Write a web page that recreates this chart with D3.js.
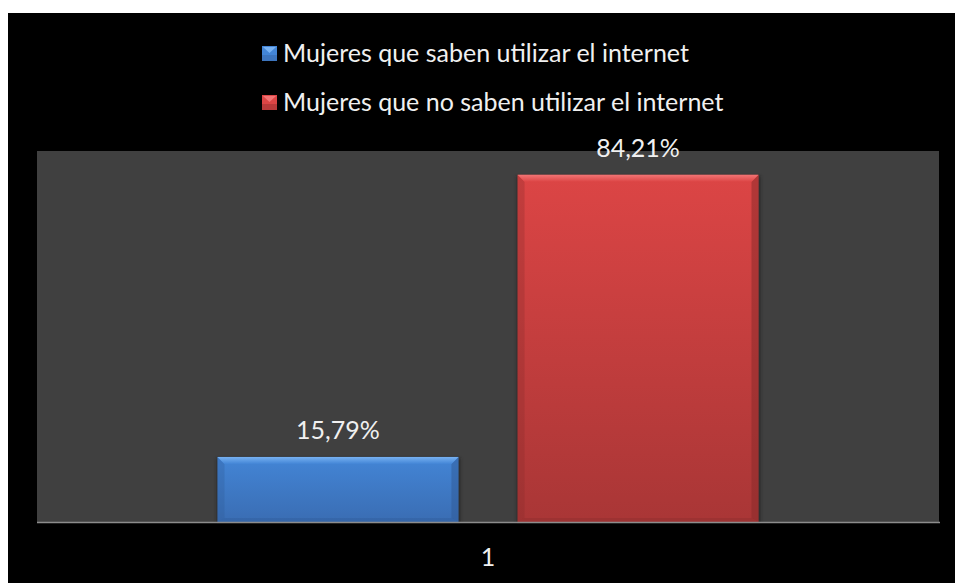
<!DOCTYPE html>
<html>
<head>
<meta charset="utf-8">
<script src="https://cdn.jsdelivr.net/npm/d3@7"></script>
<style>
  html, body { margin: 0; padding: 0; background: #ffffff; }
  svg { display: block; }
  text { font-family: Lato, "Open Sans", sans-serif; }
</style>
</head>
<body>
<svg id="chart" width="955" height="583"></svg>
<script>
// Data
const categories = ["1"];
const seriesNames = [
  "Mujeres que saben utilizar el internet",
  "Mujeres que no saben utilizar el internet"
];
const seriesValues = [15.79, 84.21];
const valueLabels = ["15,79%", "84,21%"];
const yMax = 90;

// Palette per series: [light bevel, top fill, bottom fill, edge shade]
const palettes = [
  { bevel: "#78b2f2", top: "#4385d6", bottom: "#3a6db3", edge: "#2f5a96" },
  { bevel: "#f27474", top: "#dc4545", bottom: "#a93636", edge: "#872a2a" }
];

const svg = d3.select("#chart");
const W = 955, H = 583;
const fontSize = 25;

// Chart background (black panel)
svg.append("rect").attr("x", 8).attr("y", 13).attr("width", W - 8).attr("height", H - 13).attr("fill", "#000000");

const plot = { left: 37, right: 939, top: 151, bottom: 522 };

// Plot area
svg.append("rect")
  .attr("x", plot.left).attr("y", plot.top)
  .attr("width", plot.right - plot.left).attr("height", plot.bottom - plot.top)
  .attr("fill", "#404040");

const x0 = d3.scaleBand().domain(categories).range([plot.left, plot.right]).paddingInner(0).paddingOuter(0.3336);
const x1 = d3.scaleBand().domain(seriesNames).range([0, x0.bandwidth()]).paddingInner(0.197).paddingOuter(0);
const y = d3.scaleLinear().domain([0, yMax]).range([plot.bottom, plot.top]);

const defs = svg.append("defs");
palettes.forEach((p, i) => {
  const g = defs.append("linearGradient").attr("id", "fill" + i).attr("x1", 0).attr("y1", 0).attr("x2", 0).attr("y2", 1);
  g.append("stop").attr("offset", "0%").attr("stop-color", p.top);
  g.append("stop").attr("offset", "100%").attr("stop-color", p.bottom);
  const b = defs.append("linearGradient").attr("id", "bevel" + i).attr("x1", 0).attr("y1", 0).attr("x2", 0).attr("y2", 1);
  b.append("stop").attr("offset", "0%").attr("stop-color", p.bevel);
  b.append("stop").attr("offset", "100%").attr("stop-color", p.top);
});
const blur = defs.append("filter").attr("id", "soft").attr("x", "-10%").attr("y", "-10%").attr("width", "120%").attr("height", "120%");
blur.append("feGaussianBlur").attr("stdDeviation", 1.6);

const bars = svg.append("g");
const bev = 7;
seriesNames.forEach((name, i) => {
  const bx = x0(categories[0]) + x1(name);
  const bw = x1.bandwidth();
  const by = y(seriesValues[i]);
  const bh = y(0) - by;
  const g = bars.append("g");
  const p = palettes[i];
  // soft shadow around the bar
  g.append("rect").attr("x", bx - 1).attr("y", by + 1).attr("width", bw + 3).attr("height", bh)
    .attr("fill", "#1c1c1c").attr("opacity", 0.55).attr("filter", "url(#soft)");
  g.append("rect").attr("x", bx).attr("y", by).attr("width", bw).attr("height", bh).attr("fill", `url(#fill${i})`);
  // side bevels
  g.append("polygon").attr("points", [[bx, by], [bx + bev, by + bev], [bx + bev, by + bh - 4], [bx, by + bh]].join(" "))
    .attr("fill", p.edge).attr("opacity", 0.3);
  g.append("polygon").attr("points", [[bx + bw, by], [bx + bw - bev, by + bev], [bx + bw - bev, by + bh - 4], [bx + bw, by + bh]].join(" "))
    .attr("fill", p.edge).attr("opacity", 0.5);
  // bottom bevel
  g.append("polygon").attr("points", [[bx, by + bh], [bx + bev, by + bh - 4], [bx + bw - bev, by + bh - 4], [bx + bw, by + bh]].join(" "))
    .attr("fill", p.edge).attr("opacity", 0.35);
  // top bevel
  g.append("polygon").attr("points", [[bx, by], [bx + bw, by], [bx + bw - bev, by + bev], [bx + bev, by + bev]].join(" "))
    .attr("fill", `url(#bevel${i})`);
  // value label
  svg.append("text")
    .attr("x", bx + bw / 2).attr("y", by - 18)
    .attr("text-anchor", "middle").attr("fill", "#f0f0f0")
    .attr("font-size", fontSize).text(valueLabels[i]);
});

// Category axis line
svg.append("line").attr("x1", plot.left).attr("x2", plot.right + 1).attr("y1", plot.bottom + 0.5).attr("y2", plot.bottom + 0.5)
  .attr("stroke", "#8c8c8c").attr("stroke-width", 1.5);
svg.append("text").attr("x", x0(categories[0]) + x0.bandwidth() / 2).attr("y", 566)
  .attr("text-anchor", "middle").attr("fill", "#f0f0f0").attr("font-size", fontSize).text(categories[0]);

// Legend
const legend = svg.append("g");
seriesNames.forEach((name, i) => {
  const ly = 54 + i * 49;
  const p = palettes[i];
  const lg = legend.append("g").attr("transform", `translate(262,${ly - 8})`);
  lg.append("rect").attr("width", 15).attr("height", 15).attr("fill", p.top);
  lg.append("rect").attr("y", 9).attr("width", 15).attr("height", 6).attr("fill", p.bottom).attr("opacity", 0.7);
  lg.append("polygon").attr("points", "1,1 14,1 7.5,7").attr("fill", p.bevel);
  legend.append("text").attr("x", 283).attr("y", ly + 8).attr("fill", "#f0f0f0")
    .attr("font-size", fontSize).text(name);
});
</script>
</body>
</html>
